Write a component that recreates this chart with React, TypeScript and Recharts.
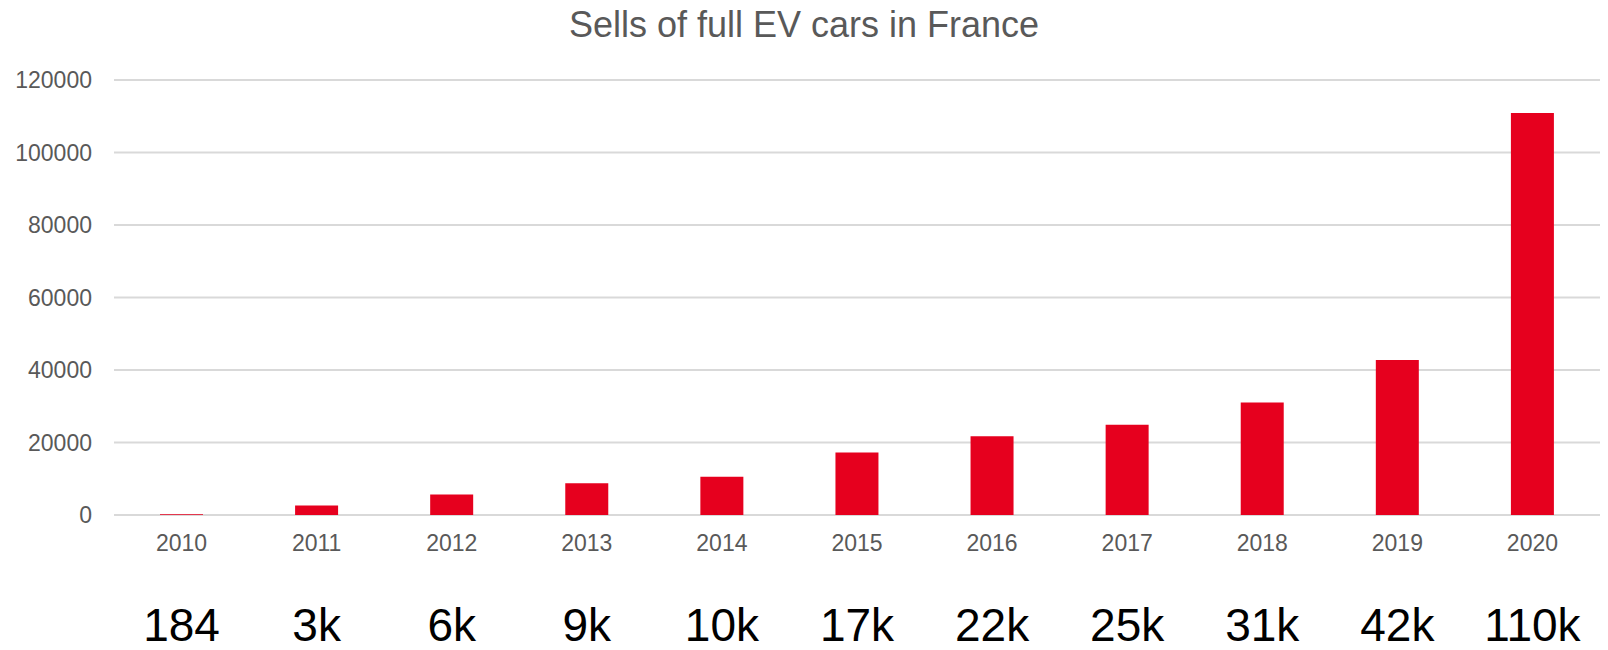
import { BarChart, Bar, XAxis, YAxis, CartesianGrid } from 'recharts';

const YEARS = ['2010', '2011', '2012', '2013', '2014', '2015', '2016', '2017', '2018', '2019', '2020'];
const SALES = [184, 2630, 5663, 8779, 10560, 17268, 21758, 24910, 31055, 42763, 110912];
const SHORT_LABELS = ['184', '3k', '6k', '9k', '10k', '17k', '22k', '25k', '31k', '42k', '110k'];
const Y_TICKS = [0, 20000, 40000, 60000, 80000, 100000, 120000];

const FONT = '"Liberation Sans", Arial, Helvetica, sans-serif';
const GREY = '#595959';
const RED = '#E6001E';

const data = YEARS.map((year, i) => ({ year, sales: SALES[i] }));

// year under the bar, then the rounded figure in big black type below it
function YearTick(props: any) {
  const { x, y, payload } = props;
  const short = SHORT_LABELS[YEARS.indexOf(payload.value)];
  return (
    <g>
      <text x={x} y={y} dy="0.71em" textAnchor="middle" fontSize={23} fill={GREY} fontFamily={FONT}>
        {payload.value}
      </text>
      <text x={x} y={y + 73} dy="0.71em" textAnchor="middle" fontSize={46} fill="#000" fontFamily={FONT}>
        {short}
      </text>
    </g>
  );
}

export default function App() {
  return (
    <div style={{ position: 'absolute', left: 0, top: 0, width: 1608, height: 650, background: '#fff', fontFamily: FONT }}>
      <div
        style={{
          position: 'absolute',
          left: 0,
          top: 7,
          width: 1608,
          textAlign: 'center',
          fontSize: 36,
          lineHeight: 1,
          color: GREY,
        }}
      >
        Sells of full EV cars in France
      </div>
      <BarChart width={1608} height={650} data={data} margin={{ top: 80, right: 8, left: 0, bottom: 0 }}>
        <CartesianGrid vertical={false} stroke="#d9d9d9" strokeWidth={2} />
        <XAxis
          dataKey="year"
          height={135}
          axisLine={false}
          tickLine={false}
          tickSize={0}
          tickMargin={20}
          interval={0}
          tick={<YearTick />}
        />
        <YAxis
          width={114}
          domain={[0, 120000]}
          ticks={Y_TICKS}
          axisLine={false}
          tickLine={false}
          tickSize={0}
          tickMargin={22}
          tick={{ fontSize: 23, fill: GREY, fontFamily: FONT }}
        />
        <Bar dataKey="sales" fill={RED} barSize={43} isAnimationActive={false} />
      </BarChart>
    </div>
  );
}
